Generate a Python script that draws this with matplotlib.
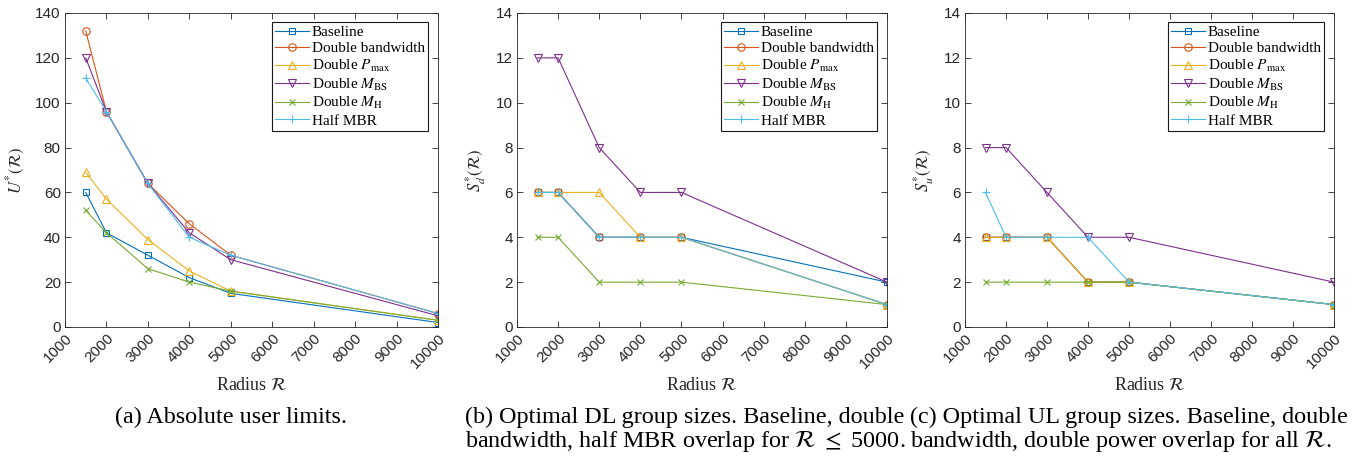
import matplotlib
matplotlib.use("Agg")
import matplotlib.pyplot as plt
from matplotlib.transforms import ScaledTranslation

plt.rcParams['mathtext.fontset'] = 'stix'
plt.rcParams['font.serif'] = ['Liberation Serif', 'DejaVu Serif']

# Radius values (x axis)
radius = [1500, 2000, 3000, 4000, 5000, 10000]

series_names = ['Baseline', 'Double bandwidth', 'Double $P_{\\max}$',
                'Double $M_{\\mathrm{BS}}$', 'Double $M_{\\mathrm{H}}$', 'Half MBR']

# (a) absolute user limits U*(R)
users_baseline = [60, 42, 32, 22, 15, 2]
users_double_bw = [132, 96, 64, 46, 32, 6]
users_double_pmax = [69, 57, 39, 25, 16, 3]
users_double_mbs = [120, 96, 64, 42, 30, 5]
users_double_mh = [52, 42, 26, 20, 16, 3]
users_half_mbr = [111, 96, 64, 40, 32, 6]

# (b) optimal DL group sizes S_d*(R)
dl_baseline = [6, 6, 4, 4, 4, 2]
dl_double_bw = [6, 6, 4, 4, 4, 1]
dl_double_pmax = [6, 6, 6, 4, 4, 1]
dl_double_mbs = [12, 12, 8, 6, 6, 2]
dl_double_mh = [4, 4, 2, 2, 2, 1]
dl_half_mbr = [6, 6, 4, 4, 4, 1]

# (c) optimal UL group sizes S_u*(R)
ul_baseline = [4, 4, 4, 2, 2, 1]
ul_double_bw = [4, 4, 4, 2, 2, 1]
ul_double_pmax = [4, 4, 4, 2, 2, 1]
ul_double_mbs = [8, 8, 6, 4, 4, 2]
ul_double_mh = [2, 2, 2, 2, 2, 1]
ul_half_mbr = [6, 4, 4, 4, 2, 1]

x_ticks = list(range(1000, 10001, 1000))
x_tick_labels = [str(t) for t in x_ticks]

colors = ['#0072BD', '#D95319', '#EDB120', '#7E2F8E', '#77AC30', '#4DBEEE']
markers = ['s', 'o', '^', 'v', 'x', '+']
msizes = [4.4, 5.4, 6.2, 6.2, 3.8, 5.2]

W, H = 1357, 457
fig = plt.figure(figsize=(W / 100, H / 100), dpi=100)

axes_px = [(65, 438), (517, 887), (965, 1334)]
top_px, bot_px = 13, 327

panels = [
    ([users_baseline, users_double_bw, users_double_pmax, users_double_mbs,
      users_double_mh, users_half_mbr], 140, 20, '$U^{*}(\\mathcal{R})$'),
    ([dl_baseline, dl_double_bw, dl_double_pmax, dl_double_mbs,
      dl_double_mh, dl_half_mbr], 14, 2, '$S_d^{*}(\\mathcal{R})$'),
    ([ul_baseline, ul_double_bw, ul_double_pmax, ul_double_mbs,
      ul_double_mh, ul_half_mbr], 14, 2, '$S_u^{*}(\\mathcal{R})$'),
]

axcol = '#262626'
label_shift = ScaledTranslation(4 / 100, -4 / 100, fig.dpi_scale_trans)

for (l, r), (data, ymax, ystep, ylab) in zip(axes_px, panels):
    ax_h = bot_px - top_px
    ax = fig.add_axes([l / W, (H - bot_px) / H, (r - l) / W, ax_h / H])
    for vals, name, c, m, ms in zip(data, series_names, colors, markers, msizes):
        ax.plot(radius, vals, color=c, marker=m, markersize=ms,
                markerfacecolor='none', markeredgewidth=0.8,
                linewidth=0.8, label=name)
    ax.set_xlim(1000, 10000)
    ax.set_ylim(0, ymax)
    ax.set_xticks(x_ticks)
    ax.set_xticklabels(x_tick_labels, rotation=45, ha='right', va='top',
                       rotation_mode='anchor', family='Liberation Sans',
                       fontsize=11, color=axcol)
    for lab in ax.xaxis.get_majorticklabels():
        lab.set_transform(lab.get_transform() + label_shift)
    ax.set_yticks(range(0, ymax + 1, ystep))
    ax.set_yticklabels([str(v) for v in range(0, ymax + 1, ystep)],
                       family='Liberation Sans', fontsize=11, color=axcol)
    ax.tick_params(direction='in', length=4, width=0.6, top=True, right=True,
                   colors=axcol, pad=3)
    for s in ax.spines.values():
        s.set_linewidth(0.6)
        s.set_color(axcol)
    ax.set_xlabel('Radius $\\mathcal{R}$', family='serif', fontsize=13,
                  color=axcol)
    ax.xaxis.set_label_coords(0.5, -(385 - bot_px) / ax_h)
    ax.xaxis.label.set_va('center')
    ax.set_ylabel(ylab, fontsize=12, color=axcol, labelpad=6)
    leg = ax.legend(loc='upper right',
                    bbox_to_anchor=(1 - 10 / (r - l), 1 - 9 / ax_h),
                    prop={'family': 'serif', 'size': 11},
                    handlelength=2.2, handletextpad=0.2, labelspacing=0.17,
                    borderpad=0.22, borderaxespad=0, fancybox=False,
                    framealpha=1, edgecolor='#1a1a1a')
    leg.get_frame().set_linewidth(0.8)

cap_kw = dict(family='serif', fontsize=17.4, color='black', va='baseline')
fig.text(231 / W, 1 - 423 / H, '(a) Absolute user limits.', ha='center', **cap_kw)
fig.text(465 / W, 1 - 423 / H, '(b) Optimal DL group sizes. Baseline, double', ha='left', **cap_kw)
fig.text(465 / W, 1 - 447 / H, 'bandwidth, half MBR overlap for $\\mathcal{R}$ $\\leq$ 5000.', ha='left', **cap_kw)
fig.text(910 / W, 1 - 423 / H, '(c) Optimal UL group sizes. Baseline, double', ha='left', **cap_kw)
fig.text(910 / W, 1 - 447 / H, 'bandwidth, double power overlap for all $\\mathcal{R}$.', ha='left', **cap_kw)

fig.savefig('out.png', dpi=100)
